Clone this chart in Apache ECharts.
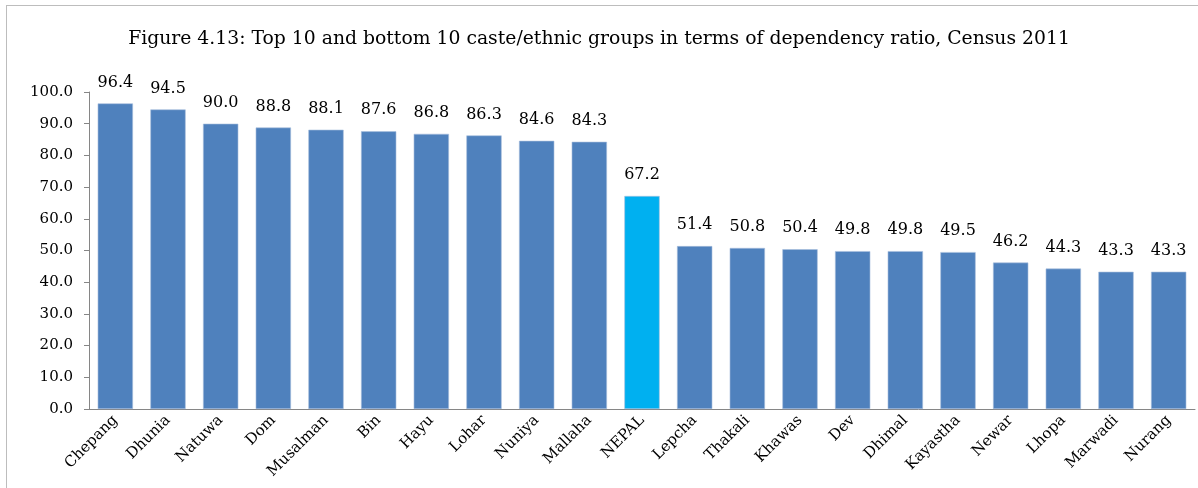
<!DOCTYPE html>
<html>
<head>
    <meta charset="utf-8">
    <title>Dependency ratio</title>
    <script src="https://cdn.jsdelivr.net/npm/echarts@6/dist/echarts.min.js"></script>
    <style>
        body { margin: 0; background: #fff; }
        #frame { position: absolute; left: 6px; top: 5px; width: 1300px; height: 600px;
                 border-left: 1px solid #bdbdbd; border-top: 1px solid #bdbdbd; pointer-events: none; }
        #chart1 { width: 1198px; height: 488px; }
    </style>
</head>
<body>
<div id="chart1"></div>
<div id="frame"></div>
<script type="text/javascript">
    // 数据
    var groups = ['Chepang', 'Dhunia', 'Natuwa', 'Dom', 'Musalman', 'Bin', 'Hayu', 'Lohar', 'Nuniya', 'Mallaha',
        'NEPAL', 'Lepcha', 'Thakali', 'Khawas', 'Dev', 'Dhimal', 'Kayastha', 'Newar', 'Lhopa', 'Marwadi', 'Nurang'];
    var ratios = [96.4, 94.5, 90.0, 88.8, 88.1, 87.6, 86.8, 86.3, 84.6, 84.3,
        67.2, 51.4, 50.8, 50.4, 49.8, 49.8, 49.5, 46.2, 44.3, 43.3, 43.3];
    var highlight = 'NEPAL';

    var serif = '"DejaVu Serif", "Liberation Serif", serif';
    var myChart1 = echarts.init(document.getElementById('chart1'));

    myChart1.setOption({
        animation: false,
        title: {
            text: 'Figure 4.13: Top 10 and bottom 10 caste/ethnic groups in terms of dependency ratio, Census 2011',
            left: 'center',
            top: 25,
            textStyle: { fontFamily: serif, fontSize: 18.8, fontWeight: 'normal', color: '#000' }
        },
        grid: { left: 89, right: 3, top: 92, bottom: 79 },
        xAxis: {
            type: 'category',
            data: groups,
            axisLine: { lineStyle: { color: '#868686', width: 1 } },
            axisTick: { length: 6, lineStyle: { color: '#868686' } },
            axisLabel: { rotate: 45, interval: 0, margin: 9, fontFamily: serif, fontSize: 15, color: '#000' }
        },
        yAxis: {
            type: 'value',
            min: 0,
            max: 100,
            interval: 10,
            splitLine: { show: false },
            axisLine: { show: true, lineStyle: { color: '#868686', width: 1 } },
            axisTick: { show: true, length: 5, lineStyle: { color: '#868686' } },
            axisLabel: {
                fontFamily: serif, fontSize: 15, color: '#000', margin: 16,
                formatter: function (v) { return v.toFixed(1); }
            }
        },
        series: [{
            type: 'bar',
            barCategoryGap: '33%',
            data: ratios.map(function (v, i) {
                return {
                    value: v,
                    itemStyle: { color: groups[i] === highlight ? '#00B0F0' : '#4F81BD' }
                };
            }),
            itemStyle: { borderColor: '#a9c0de', borderWidth: 0.6 },
            label: {
                show: true,
                position: 'top',
                distance: 13,
                fontFamily: serif,
                fontSize: 16,
                color: '#000',
                formatter: function (p) { return p.value.toFixed(1); }
            }
        }]
    });
</script>
</body>
</html>
